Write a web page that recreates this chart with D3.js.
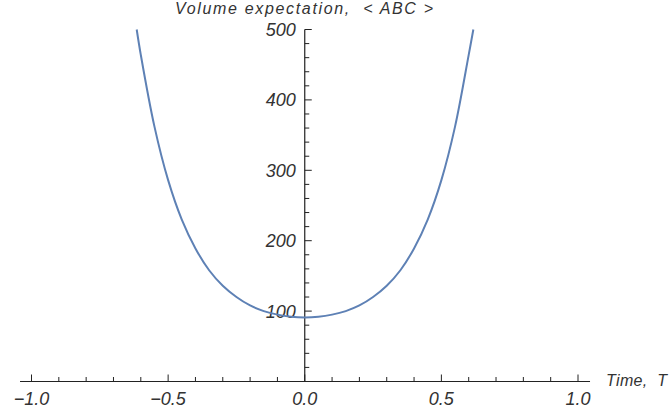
<!DOCTYPE html>
<html>
<head>
<meta charset="utf-8">
<script src="https://cdn.jsdelivr.net/npm/d3@7"></script>
<style>
  html, body { margin: 0; padding: 0; background: #fff; }
  svg { display: block; }
  text { font-family: "Liberation Sans", Arial, sans-serif; font-style: italic; fill: #333; }
</style>
</head>
<body>
<svg id="chart" width="669" height="414"></svg>
<script>
// Data
const time = [-0.615, -0.6, -0.55, -0.5, -0.45, -0.4, -0.35, -0.3, -0.25, -0.2, -0.15, -0.1, -0.05, 0, 0.05, 0.1, 0.15, 0.2, 0.25, 0.3, 0.35, 0.4, 0.45, 0.5, 0.55, 0.6, 0.617];
const volume = [500, 464, 362, 286, 230, 189, 158, 136, 120, 108, 100, 95, 92, 91, 92, 95, 100, 108, 120, 136, 158, 189, 230, 286, 362, 464, 500];
const xMajorTicks = [-1.0, -0.5, 0.0, 0.5, 1.0];
const xMinorTicks = [-0.9, -0.8, -0.7, -0.6, -0.4, -0.3, -0.2, -0.1, 0.1, 0.2, 0.3, 0.4, 0.6, 0.7, 0.8, 0.9];
const yMajorTicks = [100, 200, 300, 400, 500];
const yMinorTicks = [20, 40, 60, 80, 120, 140, 160, 180, 220, 240, 260, 280, 320, 340, 360, 380, 420, 440, 460, 480];
const titleText = "Volume expectation,  < ABC >";
const xAxisLabel = "Time,  T";

const svg = d3.select("#chart");
const x = d3.scaleLinear().domain([-1, 1]).range([31.5, 578]);
const y = d3.scaleLinear().domain([0, 500]).range([381.5, 29.5]);
const xExtent = [-1.042, 1.044];
const axisColor = "#222";
const fmt = d3.format(".1f");

// x axis line
svg.append("line")
  .attr("x1", x(xExtent[0])).attr("x2", x(xExtent[1]))
  .attr("y1", y(0)).attr("y2", y(0))
  .attr("stroke", axisColor).attr("stroke-width", 1.2);
// y axis line
svg.append("line")
  .attr("x1", x(0)).attr("x2", x(0))
  .attr("y1", y(0)).attr("y2", y(500))
  .attr("stroke", axisColor).attr("stroke-width", 1.2);

// x ticks (pointing up)
svg.selectAll(".xmaj").data(xMajorTicks).enter().append("line")
  .attr("x1", d => x(d)).attr("x2", d => x(d))
  .attr("y1", y(0)).attr("y2", y(0) - 7)
  .attr("stroke", axisColor).attr("stroke-width", 1);
svg.selectAll(".xmin").data(xMinorTicks).enter().append("line")
  .attr("x1", d => x(d)).attr("x2", d => x(d))
  .attr("y1", y(0)).attr("y2", y(0) - 4.5)
  .attr("stroke", axisColor).attr("stroke-width", 1);
svg.selectAll(".xlab").data(xMajorTicks).enter().append("text")
  .attr("x", d => x(d)).attr("y", y(0) + 23.5)
  .attr("text-anchor", "middle")
  .style("font-size", "18px")
  .text(d => fmt(d));

// y ticks (pointing right)
svg.selectAll(".ymaj").data(yMajorTicks).enter().append("line")
  .attr("x1", x(0)).attr("x2", x(0) + 7)
  .attr("y1", d => y(d)).attr("y2", d => y(d))
  .attr("stroke", axisColor).attr("stroke-width", 1);
svg.selectAll(".ymin").data(yMinorTicks).enter().append("line")
  .attr("x1", x(0)).attr("x2", x(0) + 4.5)
  .attr("y1", d => y(d)).attr("y2", d => y(d))
  .attr("stroke", axisColor).attr("stroke-width", 1);
svg.selectAll(".ylab").data(yMajorTicks).enter().append("text")
  .attr("x", x(0) - 9).attr("y", d => y(d) + 6.5)
  .attr("text-anchor", "end")
  .style("font-size", "18px")
  .text(d => d);

// curve
const pts = time.map((t, i) => [t, volume[i]]);
svg.append("path")
  .datum(pts)
  .attr("fill", "none")
  .attr("stroke", "#5e81b5")
  .attr("stroke-width", 2)
  .attr("d", d3.line().x(d => x(d[0])).y(d => y(d[1])).curve(d3.curveCatmullRom));

// title
svg.append("text")
  .attr("x", 175).attr("y", 14)
  .style("font-size", "16px")
  .attr("xml:space", "preserve")
  .attr("textLength", 258)
  .attr("lengthAdjust", "spacing")
  .text(titleText);

// x axis label
svg.append("text")
  .attr("x", 606).attr("y", 385.5)
  .style("font-size", "16px")
  .attr("xml:space", "preserve")
  .attr("textLength", 61)
  .attr("lengthAdjust", "spacing")
  .text(xAxisLabel);
</script>
</body>
</html>
